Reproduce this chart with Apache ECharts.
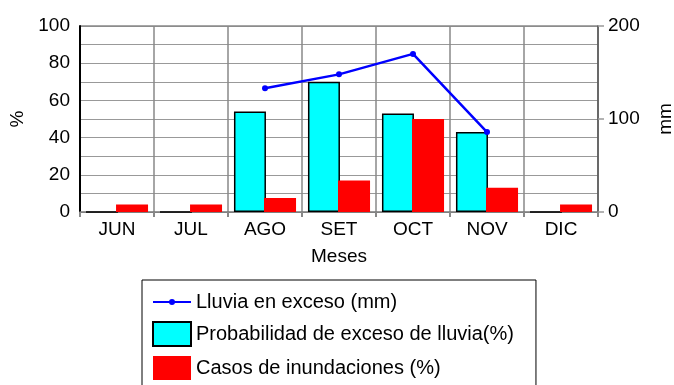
<!DOCTYPE html>
<html>
<head>
<meta charset="utf-8">
<script src="https://cdn.jsdelivr.net/npm/echarts@6/dist/echarts.min.js"></script>
<style>
html,body{margin:0;padding:0;background:#fff;}
#chart{width:674px;height:385px;}
</style>
</head>
<body>
<div id="chart"></div>
<script>
// datos
var meses = ['JUN', 'JUL', 'AGO', 'SET', 'OCT', 'NOV', 'DIC'];
var lluviaExceso = [null, null, 133, 148, 170, 86, null];      // mm (eje derecho)
var probExceso = [0, 0, 54, 70, 53, 43, 0];                     // %
var casosInund = [4, 4, 7.5, 17, 50, 13, 4];                    // %

var fuente = 'Liberation Sans, Arial, sans-serif';
var chart = echarts.init(document.getElementById('chart'));

// icono de la leyenda: linea con punto
var iconoLinea = 'path://M0,11 L38,11 L38,13 L0,13 Z M19,9 A3,3 0 1 1 19,15 A3,3 0 1 1 19,9 Z';

var option = {
    backgroundColor: '#fff',
    animation: false,
    textStyle: {fontFamily: fuente},
    grid: {left: 80, right: 76, top: 26, bottom: 173, show: false, outerBoundsMode: 'none', containLabel: false},
    legend: {
        orient: 'vertical',
        left: 142,
        top: 280,
        height: 140,
        itemWidth: 38,
        itemHeight: 24,
        itemGap: 9,
        padding: [12, 22, 20, 10],
        borderColor: '#000',
        borderWidth: 1,
        textStyle: {fontSize: 20, color: '#000', fontFamily: fuente},
        data: [
            {name: 'Lluvia en exceso (mm)', icon: iconoLinea},
            {name: 'Probabilidad de exceso de lluvia(%)', icon: 'rect'},
            {name: 'Casos de inundaciones (%)', icon: 'rect'}
        ]
    },
    xAxis: {
        type: 'category',
        data: meses,
        name: 'Meses',
        nameLocation: 'middle',
        nameGap: 35,
        nameTextStyle: {fontSize: 19, color: '#000'},
        axisLine: {lineStyle: {color: '#777', width: 1.5}},
        axisTick: {show: true, length: 5, lineStyle: {color: '#888', width: 2}},
        axisLabel: {fontSize: 19, color: '#000', margin: 8},
        splitLine: {show: true, lineStyle: {color: '#888', width: 1.5}}
    },
    yAxis: [{
        type: 'value',
        min: 0, max: 100, interval: 10,
        name: '%',
        nameLocation: 'middle',
        nameRotate: 90,
        nameGap: 51,
        nameTextStyle: {fontSize: 19, color: '#000'},
        axisLine: {show: true, lineStyle: {color: '#000', width: 2}},
        axisTick: {show: false},
        axisLabel: {
            fontSize: 19, color: '#000', margin: 10,
            formatter: function (v) { return v % 20 === 0 ? v : ''; }
        },
        splitLine: {show: true, lineStyle: {color: '#999', width: 1.2}}
    }, {
        type: 'value',
        min: 0, max: 200, interval: 100,
        name: 'mm',
        nameLocation: 'middle',
        nameRotate: 90,
        nameGap: 58,
        nameTextStyle: {fontSize: 19, color: '#000'},
        axisLine: {show: true, lineStyle: {color: '#555', width: 1.5}},
        axisTick: {show: true, length: 6, lineStyle: {color: '#999', width: 1.5}},
        axisLabel: {fontSize: 19, color: '#000', margin: 10},
        splitLine: {show: false}
    }],
    series: [{
        name: 'Lluvia en exceso (mm)',
        type: 'line',
        yAxisIndex: 1,
        data: lluviaExceso,
        z: 5,
        symbol: 'circle',
        symbolSize: 6,
        lineStyle: {color: '#0000ff', width: 2.5},
        itemStyle: {color: '#0000ff'}
    }, {
        name: 'Probabilidad de exceso de lluvia(%)',
        type: 'bar',
        data: probExceso,
        barWidth: 32,
        barGap: '-6%',
        itemStyle: {color: '#00ffff', borderColor: '#000', borderWidth: 1.5}
    }, {
        name: 'Casos de inundaciones (%)',
        type: 'bar',
        data: casosInund,
        barWidth: 32,
        itemStyle: {color: '#ff0000'}
    }]
};

chart.setOption(option);

// borde superior del area de trazado
var yTope = chart.convertToPixel({yAxisIndex: 0}, 100);
chart.setOption({
    graphic: [{
        type: 'line',
        shape: {x1: 80, y1: yTope, x2: 598, y2: yTope},
        style: {stroke: '#888', lineWidth: 1.5}
    }]
});
</script>
</body>
</html>
